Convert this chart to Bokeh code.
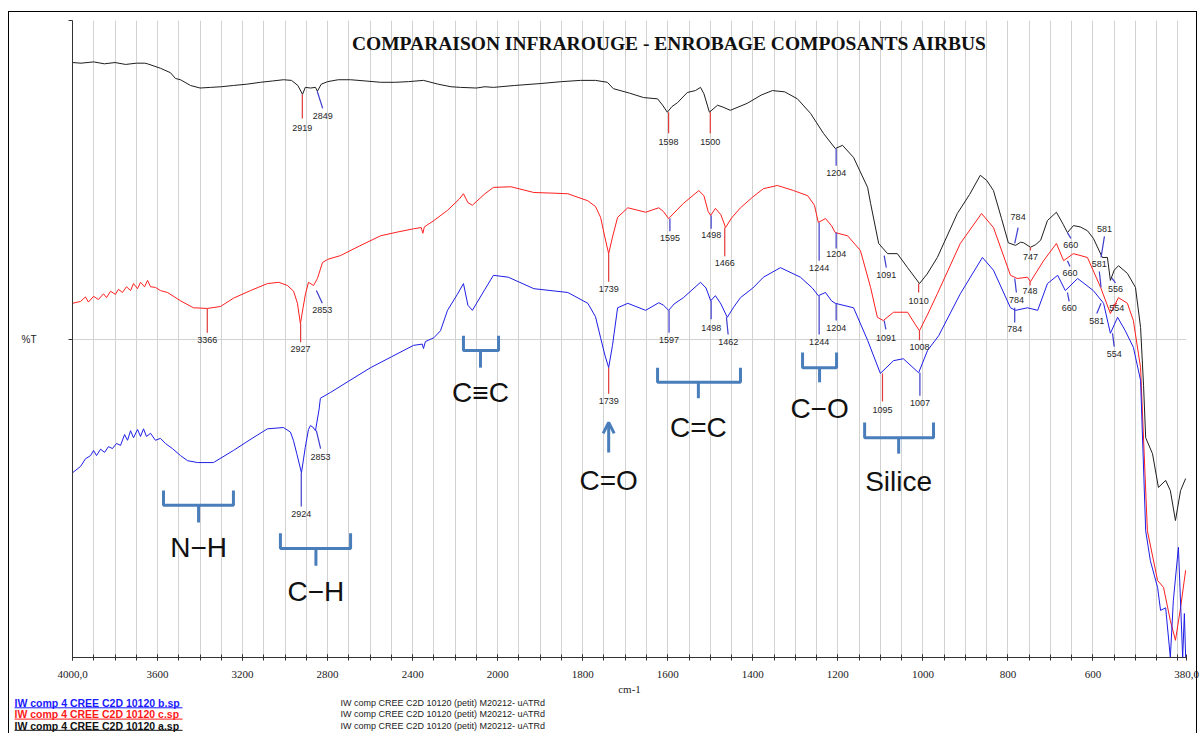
import numpy as np
from bokeh.plotting import figure
from bokeh.models import Range1d, FixedTicker, Arrow, OpenHead, Div
from bokeh.embed import file_html
from bokeh.resources import INLINE
from bokeh.core.properties import value

# ---------------- data (wavenumber cm-1, %T in arbitrary stacked units) ----------------
black_wn = [4000, 3960, 3900, 3850, 3800, 3750, 3700, 3660, 3647, 3586, 3539, 3516, 3492, 3445, 3400,
            3351, 3300, 3243, 3180, 3116, 3060, 3008, 2970, 2940, 2918, 2905, 2880, 2857, 2848, 2830,
            2800, 2750, 2692, 2620, 2551, 2480, 2420, 2349, 2280, 2220, 2175, 2100, 2060, 2020, 1960,
            1900, 1850, 1805, 1770, 1742, 1728, 1690, 1657, 1624, 1612, 1601, 1590, 1577, 1554, 1535,
            1523, 1515, 1502, 1483, 1470, 1453, 1413, 1380, 1354, 1325, 1295, 1264, 1234, 1206, 1189,
            1163, 1130, 1123, 1104, 1083, 1060, 1036, 1008, 990, 966, 919, 890, 865, 850, 834, 815, 799,
            782, 770, 763, 747, 735, 723, 707, 686, 670, 660, 646, 630, 613, 599, 578, 566, 559, 550,
            540, 519, 500, 488, 481, 476, 460, 446, 429, 418, 406, 394, 382]
black_t = [93.4, 93.3, 93.5, 93.2, 93.4, 93.1, 93.3, 93.3, 93.2, 92.5, 91.8, 90.9, 90.7, 89.8, 89.4,
           89.5, 89.6, 89.8, 90.0, 90.3, 90.5, 90.7, 90.6, 89.8, 88.4, 89.5, 89.4, 89.5, 88.9, 90.0,
           90.4, 90.7, 90.7, 90.5, 90.3, 90.3, 90.4, 90.6, 90.0, 89.6, 89.5, 89.4, 89.6, 89.5, 89.8,
           90.1, 90.4, 90.6, 90.6, 90.3, 89.3, 88.6, 87.9, 87.7, 86.7, 85.6, 86.5, 87.1, 88.7, 89.0,
           89.5, 88.5, 85.6, 86.7, 86.4, 85.9, 87.0, 88.3, 89.0, 88.8, 87.7, 85.4, 82.3, 79.9, 80.4,
           78.5, 73.8, 71.3, 65.0, 63.4, 63.4, 61.2, 58.7, 60.2, 62.8, 69.7, 72.7, 75.7, 74.9, 73.3,
           68.9, 65.1, 64.7, 65.2, 65.1, 64.4, 64.8, 65.5, 68.6, 69.9, 68.0, 66.7, 67.8, 67.6, 67.0,
           65.8, 62.8, 62.8, 59.2, 60.8, 61.5, 60.3, 58.1, 51.8, 42.7, 34.5, 32.0, 26.7, 27.8, 26.2,
           21.5, 26.2, 28.1]

red_wn = [4000, 3962, 3939, 3925, 3901, 3878, 3854, 3840, 3821, 3798, 3784, 3765, 3746, 3727, 3713,
          3694, 3680, 3661, 3647, 3633, 3610, 3586, 3553, 3492, 3431, 3365, 3304, 3243, 3163, 3083,
          3030, 2989, 2960, 2942, 2928, 2915, 2904, 2890, 2866, 2848, 2824, 2800, 2739, 2650, 2551,
          2470, 2396, 2360, 2352, 2345, 2300, 2236, 2180, 2161, 2140, 2119, 2060, 2020, 1969, 1915,
          1870, 1835, 1788, 1770, 1758, 1748, 1739, 1730, 1718, 1694, 1652, 1621, 1610, 1598, 1585,
          1563, 1527, 1515, 1505, 1499, 1488, 1475, 1464, 1450, 1429, 1400, 1375, 1342, 1304, 1271,
          1255, 1246, 1229, 1215, 1206, 1177, 1147, 1123, 1107, 1093, 1069, 1036, 1020, 1008, 990,
          966, 912, 862, 834, 794, 778, 754, 747, 716, 686, 669, 646, 613, 582, 559, 540, 519, 505,
          488, 472, 448, 434, 418, 406, 394, 382]
red_t = [55.6, 55.9, 56.6, 55.8, 56.7, 56.2, 57.1, 56.5, 57.5, 57.0, 57.8, 57.3, 58.2, 57.6, 58.7,
         57.9, 58.9, 58.2, 59.2, 58.2, 58.1, 57.6, 57.3, 56.0, 54.9, 54.8, 55.1, 56.4, 57.6, 58.7,
         58.9, 58.4, 57.5, 55.6, 52.4, 55.0, 57.1, 58.9, 58.4, 59.5, 62.0, 62.5, 63.1, 64.6, 66.2,
         66.8, 67.3, 67.5, 66.6, 67.6, 68.6, 70.2, 72.0, 72.8, 71.4, 71.0, 72.8, 73.8, 73.9, 73.0,
         72.9, 72.8, 71.7, 70.8, 69.1, 66.0, 63.4, 66.0, 69.1, 70.6, 69.9, 70.6, 70.0, 68.9, 69.8,
         71.3, 73.3, 72.5, 70.0, 69.4, 70.5, 69.5, 67.5, 69.0, 70.6, 72.3, 73.6, 74.1, 73.3, 72.5,
         71.0, 68.3, 68.9, 67.8, 66.7, 66.2, 63.9, 58.1, 53.4, 52.9, 54.2, 54.2, 52.5, 51.3, 53.7,
         57.1, 65.0, 69.7, 67.5, 60.0, 59.5, 59.7, 59.0, 62.3, 65.0, 62.3, 63.4, 62.8, 58.1, 54.0,
         56.5, 55.6, 52.9, 45.5, 19.9, 12.1, 11.0, 5.8, 2.7, 7.8, 13.7]

blue_wn = [4000, 3962, 3939, 3915, 3901, 3887, 3868, 3849, 3831, 3812, 3793, 3774, 3755, 3741, 3727,
           3713, 3694, 3680, 3666, 3652, 3633, 3610, 3586, 3563, 3530, 3492, 3459, 3412, 3337, 3243,
           3160, 3083, 3008, 2975, 2961, 2945, 2923, 2905, 2890, 2881, 2870, 2857, 2840, 2834, 2787,
           2700, 2598, 2500, 2396, 2355, 2349, 2340, 2300, 2269, 2236, 2190, 2161, 2140, 2119, 2060,
           2020, 1975, 1915, 1835, 1788, 1770, 1758, 1748, 1739, 1730, 1718, 1694, 1652, 1621, 1610,
           1598, 1585, 1563, 1523, 1510, 1499, 1488, 1475, 1460, 1445, 1429, 1400, 1375, 1335, 1288,
           1260, 1246, 1229, 1215, 1206, 1163, 1130, 1100, 1069, 1046, 1010, 989, 963, 912, 860, 834,
           794, 782, 754, 730, 707, 683, 665, 636, 599, 575, 559, 542, 524, 505, 488, 476, 465, 448,
           441, 429, 418, 411, 399, 389, 385, 382]
blue_t = [29.0, 30.0, 31.2, 31.7, 32.5, 31.7, 32.7, 32.2, 33.1, 32.8, 33.6, 33.3, 35.0, 34.1, 35.6,
          34.5, 35.8, 34.7, 35.9, 34.7, 35.2, 34.1, 34.4, 33.6, 32.8, 31.7, 30.9, 30.6, 30.6, 32.5,
          34.3, 35.9, 36.1, 35.4, 34.1, 32.0, 29.0, 33.0, 35.8, 36.4, 36.2, 35.6, 39.0, 40.7, 41.6,
          43.4, 45.5, 47.2, 49.0, 49.2, 48.5, 49.6, 50.2, 51.3, 54.5, 57.0, 58.7, 55.3, 54.5, 57.8,
          60.0, 59.7, 57.9, 57.3, 55.6, 53.5, 50.2, 47.5, 45.5, 49.0, 54.9, 55.6, 54.5, 55.7, 55.3,
          54.5, 55.5, 56.5, 58.9, 58.0, 56.0, 56.8, 55.5, 53.4, 55.0, 56.5, 58.0, 59.7, 61.2, 59.7,
          58.0, 56.8, 57.3, 56.0, 55.6, 54.9, 49.8, 44.6, 46.6, 46.9, 44.7, 48.2, 50.5, 57.1, 62.8, 60.8,
          54.9, 54.5, 54.9, 54.5, 58.7, 60.0, 57.6, 59.5, 57.6, 55.6, 50.9, 53.4, 51.3, 48.7, 43.5, 19.9,
          15.2, 11.0, 7.4, 7.8, 0.0, 8.9, 17.3, 0.0, 6.9, 0.0]

# peak labels: (text, wavenumber, T on curve, T end of marker, T of text, x shift, marker colour)
R, B = "#e03a3a", "#3c3ccc"
peaks_black = [("2919", 2919, 88.4, 84.6, 83.2, 0, R), ("2849", 2849, 88.9, 86.2, 85.0, 13, B),
               ("1598", 1598, 85.6, 82.3, 81.0, 0, R), ("1500", 1500, 85.6, 82.3, 81.0, 0, R),
               ("1204", 1204, 79.9, 77.2, 76.1, 0, B), ("1091", 1091, 63.1, 61.2, 60.1, 5, B),
               ("1010", 1010, 58.7, 57.3, 56.0, 0, R), ("784", 784, 65.0, 67.5, 69.1, 8, B),
               ("747", 747, 64.4, 63.9, 62.8, 0, R), ("660", 660, 66.7, 65.8, 64.7, 8, B),
               ("581", 581, 62.8, 66.1, 67.3, 8, B), ("556", 556, 59.6, 58.8, 57.8, 9, B)]
peaks_red = [("3366", 3366, 54.8, 51.0, 49.8, 0, R), ("2927", 2927, 52.4, 49.5, 48.4, 0, R),
             ("2853", 2853, 57.6, 55.6, 54.6, 14, B), ("1739", 1739, 63.4, 59.0, 57.9, 0, R),
             ("1595", 1595, 68.9, 66.9, 65.8, 0, B), ("1498", 1498, 69.4, 67.3, 66.4, 0, B),
             ("1466", 1466, 67.5, 63.0, 61.9, 0, R), ("1244", 1244, 68.3, 62.3, 61.2, 0, B),
             ("1204", 1204, 66.7, 64.2, 63.3, 0, B), ("1091", 1091, 52.9, 51.5, 50.2, 4, B),
             ("1008", 1008, 51.3, 49.8, 48.8, 0, R), ("784", 784, 59.5, 57.3, 56.2, 4, B),
             ("748", 748, 59.0, 58.4, 57.5, 0, R), ("660", 660, 62.3, 61.4, 60.3, 6, B),
             ("581", 581, 58.1, 60.6, 61.7, -4, B), ("554", 554, 55.2, 55.6, 54.8, 10, R)]
peaks_blue = [("2924", 2924, 29.0, 23.7, 22.6, 0, B), ("2853", 2853, 35.6, 32.8, 31.4, 10, B),
              ("1739", 1739, 45.5, 41.4, 40.3, 0, R), ("1597", 1597, 54.5, 51.0, 49.8, 0, B),
              ("1498", 1498, 56.0, 53.1, 51.8, 0, B), ("1462", 1462, 53.4, 50.7, 49.6, 4, B),
              ("1244", 1244, 56.8, 50.7, 49.6, 0, B), ("1204", 1204, 55.6, 52.9, 51.8, 0, B),
              ("1095", 1095, 44.6, 40.2, 38.8, 0, R), ("1007", 1007, 44.7, 41.1, 40.0, 0, B),
              ("784", 784, 54.9, 52.6, 51.5, 0, B), ("660", 660, 57.3, 55.9, 54.8, 4, B),
              ("581", 581, 55.6, 54.0, 52.9, -10, B), ("554", 554, 50.9, 48.8, 47.6, 4, B)]

# functional-group braces: (label, wn left, wn right, wn stem, T tips, T bar, T stem, T label)
groups = [("N\u2212H", 3572, 3243, 3407, 26.2, 23.9, 21.2, 17.2),
          ("C\u2212H", 3022, 2692, 2855, 19.5, 17.1, 14.4, 10.3),
          ("C\u2261C", 2161, 1998, 2081, 50.5, 48.2, 45.5, 41.6),
          ("C=C", 1624, 1429, 1528, 45.5, 43.2, 40.7, 36.1),
          ("C\u2212O", 1283, 1203, 1243, 47.9, 45.5, 43.2, 39.1),
          ("Silice", 1137, 975, 1057, 36.9, 34.5, 32.0, 27.6)]
carbonyl = ("C=O", 1739, 32.2, 36.9, 27.8)

tick_wn = [4000, 3600, 3200, 2800, 2400, 2000, 1800, 1600, 1400, 1200, 1000, 800, 600, 380]
tick_labels = ["4000,0", "3600", "3200", "2800", "2400", "2000", "1800", "1600", "1400", "1200",
               "1000", "800", "600", "380,0"]

title = "COMPARAISON INFRAROUGE - ENROBAGE COMPOSANTS AIRBUS"
files = ["IW comp 4 CREE C2D 10120 b.sp", "IW comp 4 CREE C2D 10120 c.sp", "IW comp 4 CREE C2D 10120 a.sp"]
file_colors = ["#1a1aff", "#ff1a1a", "#111111"]
desc = "IW comp CREE C2D 10120 (petit) M20212- uATRd"


# x axis with the usual 2000 cm-1 scale change (half scale above 2000)
def wn2u(w):
    w = np.asarray(w, dtype=float)
    return np.where(w >= 2000, (4000.0 - w) / 2.0, 3000.0 - w)


p = figure(width=1200, height=698, x_range=Range1d(0, 2620), y_range=Range1d(0, 100),
           output_backend="svg", toolbar_location=None,
           min_border_left=72, min_border_right=14, min_border_top=20, min_border_bottom=41)
p.outline_line_color = None
p.background_fill_color = "white"
p.border_fill_color = "white"

# grid
grid_u = list(range(0, 2601, 50))
p.xgrid.ticker = FixedTicker(ticks=grid_u)
p.xgrid.grid_line_color = "#d2d2d2"
p.xgrid.grid_line_width = 1
p.ygrid.ticker = FixedTicker(ticks=[50])
p.ygrid.grid_line_color = "#d2d2d2"

# x axis
tick_u = [float(v) for v in wn2u(tick_wn)]
xa = p.xaxis[0]
xa.ticker = FixedTicker(ticks=tick_u, minor_ticks=grid_u)
xa.major_label_overrides = {u: t for u, t in zip(tick_u, tick_labels)}
xa.axis_line_color = "#333333"
xa.major_tick_line_color = "#333333"
xa.minor_tick_line_color = "#333333"
xa.major_tick_in = 3
xa.major_tick_out = 3
xa.minor_tick_in = 3
xa.minor_tick_out = 3
xa.major_label_text_font = "Liberation Serif"
xa.major_label_text_font_size = "11px"
xa.major_label_text_color = "#222222"
xa.major_label_standoff = 10
xa.axis_label = "cm-1"
xa.axis_label_text_font = "Liberation Serif"
xa.axis_label_text_font_size = "11px"
xa.axis_label_text_font_style = "normal"
xa.axis_label_text_color = "#222222"
xa.axis_label_standoff = 2

# y axis
ya = p.yaxis[0]
ya.ticker = FixedTicker(ticks=[50, 100])
ya.major_label_overrides = {50: "", 100: ""}
ya.axis_line_color = "#333333"
ya.major_tick_line_color = "#333333"
ya.major_tick_in = 0
ya.major_tick_out = 4
ya.minor_tick_line_color = None
ya.axis_label = "%T"
ya.axis_label_orientation = "horizontal"
ya.axis_label_text_font = "Liberation Sans"
ya.axis_label_text_font_size = "10px"
ya.axis_label_text_font_style = "normal"
ya.axis_label_text_color = "#222222"
ya.axis_label_standoff = 32

# spectra
p.line(wn2u(black_wn), black_t, line_color="#1e1e1e", line_width=1)
p.line(wn2u(red_wn), red_t, line_color="#ff1e1e", line_width=1)
p.line(wn2u(blue_wn), blue_t, line_color="#1e1ee6", line_width=1)

# peak markers and labels
allpeaks = peaks_black + peaks_red + peaks_blue
x0 = [float(wn2u(pk[1])) for pk in allpeaks]
p.segment(x0=x0, y0=[pk[2] for pk in allpeaks],
          x1=[x + pk[5] for x, pk in zip(x0, allpeaks)], y1=[pk[3] for pk in allpeaks],
          line_color=[pk[6] for pk in allpeaks], line_width=1.2)
p.text(x=[x + pk[5] for x, pk in zip(x0, allpeaks)], y=[pk[4] for pk in allpeaks],
       text=[pk[0] for pk in allpeaks], text_font=value("Liberation Sans"), text_font_size="9px",
       text_color="#262626", text_align="center", text_baseline="middle")

# group braces
bc = "#4a7ebb"
xs, ys = [], []
for g in groups:
    xl, xr, xm = (float(v) for v in wn2u([g[1], g[2], g[3]]))
    xs.append([xl, xl, xr, xr]); ys.append([g[4], g[5], g[5], g[4]])
    xs.append([xm, xm]); ys.append([g[5], g[6]])
p.multi_line(xs, ys, line_color=bc, line_width=3)
p.text(x=[float(wn2u(g[3])) for g in groups] + [float(wn2u(carbonyl[1]))],
       y=[g[7] for g in groups] + [carbonyl[4]],
       text=[g[0] for g in groups] + [carbonyl[0]],
       text_font=value("Liberation Sans"), text_font_size="28px", text_color="#111111",
       text_align="center", text_baseline="middle")
cx = float(wn2u(carbonyl[1]))
p.add_layout(Arrow(end=OpenHead(size=11, line_color=bc, line_width=3),
                   x_start=cx, y_start=carbonyl[2], x_end=cx, y_end=carbonyl[3],
                   line_color=bc, line_width=3))

# title
p.text(x=[1404], y=[96.4], text=[title], text_font=value("Liberation Serif"), text_font_size="19.5px",
       text_font_style="bold", text_color="#111111", text_align="center", text_baseline="middle")

# file legend strip below the plot (separate root so its frame spans the full width)
lg = figure(width=1200, height=34, x_range=Range1d(0, 1200), y_range=Range1d(34, 0),
            output_backend="svg", toolbar_location=None, x_axis_type=None, y_axis_type=None,
            min_border=0, min_border_left=0, min_border_right=0, min_border_top=0, min_border_bottom=0)
lg.outline_line_color = None
lg.xgrid.visible = False
lg.ygrid.visible = False
row_y = [4.5, 15.8, 27]
lg.text(x=[14] * 3, y=row_y, text=files, text_font=value("Liberation Sans"), text_font_size="10.5px",
        text_font_style="bold", text_color=file_colors, text_align="left", text_baseline="middle")
lg.segment(x0=[14] * 3, y0=[y + 4.8 for y in row_y], x1=[182] * 3, y1=[y + 4.8 for y in row_y],
           line_color=file_colors, line_width=1)
lg.text(x=[340] * 3, y=row_y, text=[desc] * 3, text_font=value("Liberation Sans"), text_font_size="9px",
        text_color="#222222", text_align="left", text_baseline="middle")

frame_div = Div(text='<div style="position:fixed;left:8px;top:11px;width:1189px;height:760px;'
                     'border:1px solid #000;pointer-events:none;"></div>', width=1200, height=1)

open("out.html", "w").write(file_html([p, lg, frame_div], INLINE))
